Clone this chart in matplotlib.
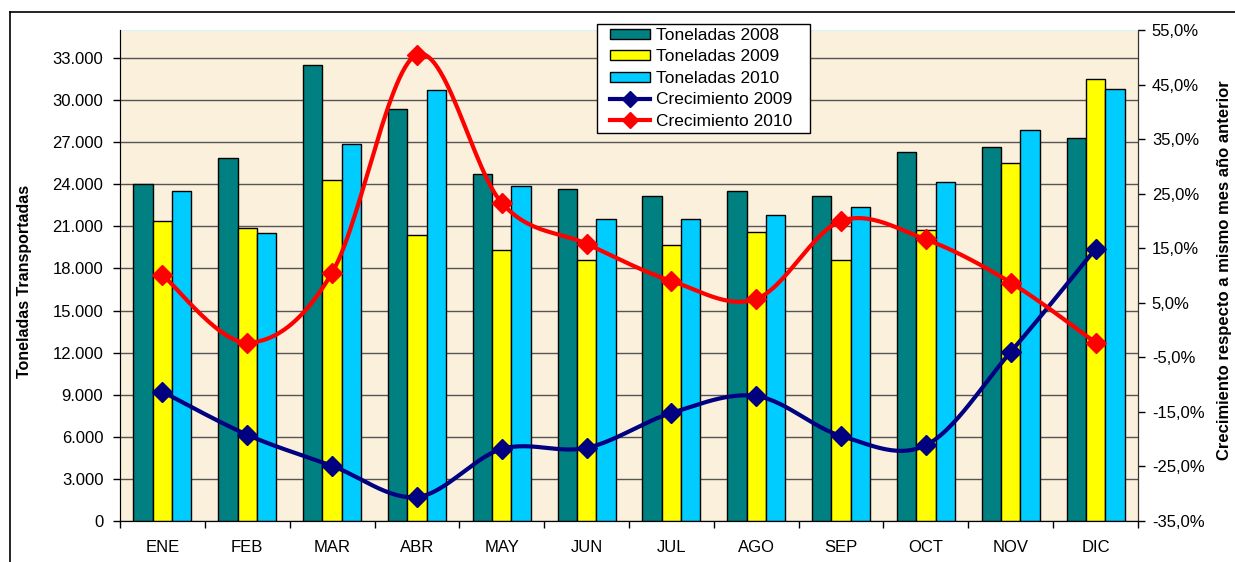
import matplotlib
matplotlib.use("Agg")
import matplotlib.pyplot as plt
import numpy as np
from matplotlib.lines import Line2D
from matplotlib.patches import Patch, Rectangle
from matplotlib.ticker import FuncFormatter, FixedLocator

plt.rcParams['font.family'] = ['Liberation Sans', 'DejaVu Sans']

# Data
meses = ['ENE', 'FEB', 'MAR', 'ABR', 'MAY', 'JUN', 'JUL', 'AGO', 'SEP', 'OCT', 'NOV', 'DIC']
ton_2008 = [24000, 25900, 32500, 29350, 24700, 23700, 23200, 23500, 23150, 26300, 26650, 27300]
ton_2009 = [21350, 20900, 24300, 20400, 19350, 18600, 19700, 20600, 18600, 20750, 25500, 31500]
ton_2010 = [23500, 20500, 26900, 30700, 23900, 21500, 21500, 21800, 22400, 24200, 27850, 30800]
crec_2009 = [-11.3, -19.2, -24.9, -30.6, -21.8, -21.6, -15.2, -12.1, -19.4, -21.1, -4.0, 14.9]
crec_2010 = [10.1, -2.3, 10.5, 50.5, 23.3, 15.8, 9.0, 5.7, 20.0, 16.6, 8.7, -2.3]


def smooth(x, y, n=30):
    # Excel-style smoothed line (Catmull-Rom / Bezier)
    x = np.asarray(x, float)
    y = np.asarray(y, float)
    xs, ys = [], []
    for i in range(len(x) - 1):
        p0 = np.array([x[max(i - 1, 0)], y[max(i - 1, 0)]])
        p1 = np.array([x[i], y[i]])
        p2 = np.array([x[i + 1], y[i + 1]])
        p3 = np.array([x[min(i + 2, len(x) - 1)], y[min(i + 2, len(x) - 1)]])
        c1 = p1 + (p2 - p0) / 6
        c2 = p2 - (p3 - p1) / 6
        t = np.linspace(0, 1, n)[:, None]
        pts = (1 - t) ** 3 * p1 + 3 * (1 - t) ** 2 * t * c1 + 3 * (1 - t) * t ** 2 * c2 + t ** 3 * p2
        xs.extend(pts[:, 0])
        ys.extend(pts[:, 1])
    return xs, ys


W, H = 1235, 562
fig = plt.figure(figsize=(W / 100, H / 100), dpi=100)
ax = fig.add_axes([120 / W, 41 / H, 1018 / W, 491 / H])
ax.set_facecolor('#FBF0DB')

x = np.arange(len(meses))
w = 0.228
ax.bar(x - w, ton_2008, w, color='#008080', edgecolor='black', linewidth=1, zorder=3)
ax.bar(x, ton_2009, w, color='#FFFF00', edgecolor='black', linewidth=1, zorder=3)
ax.bar(x + w, ton_2010, w, color='#00CCFF', edgecolor='black', linewidth=1, zorder=3)

ax.set_xlim(-0.5, 11.5)
ax.set_ylim(0, 35000)
ax.yaxis.set_major_locator(FixedLocator(np.arange(0, 33001, 3000)))
ax.yaxis.set_major_formatter(FuncFormatter(lambda v, p: f'{int(v):,}'.replace(',', '.')))
ax.grid(axis='y', color='#555555', linewidth=1, zorder=1)
ax.set_xticks(x)
ax.set_xticklabels(meses)
ax.set_xticks(np.arange(-0.5, 12, 1), minor=True)
ax.tick_params(axis='x', which='major', length=0, pad=14, labelsize=12)
ax.tick_params(axis='x', which='minor', length=5, width=1, direction='out')
ax.tick_params(axis='y', length=5, width=1, direction='out', pad=7, labelsize=12)
ax.spines['top'].set_color('#D8F6F8')
ax.spines['left'].set_color('#333333')
ax.spines['bottom'].set_color('#333333')

ax2 = ax.twinx()
ax2.set_ylim(-35, 55)
ax2.yaxis.set_major_locator(FixedLocator(np.arange(-35, 56, 10)))
ax2.yaxis.set_major_formatter(FuncFormatter(lambda v, p: f'{v:.1f}%'.replace('.', ',')))
ax2.tick_params(axis='y', length=5, width=1, direction='out', pad=5, labelsize=12)
ax2.spines['right'].set_color('#333333')
ax2.spines['top'].set_visible(False)

sx, sy = smooth(x, crec_2009)
ax2.plot(sx, sy, color='#000080', linewidth=3, zorder=4)
ax2.plot(x, crec_2009, 'D', color='#000080', markersize=10, zorder=5)
sx, sy = smooth(x, crec_2010)
ax2.plot(sx, sy, color='#FF0000', linewidth=3, zorder=4)
ax2.plot(x, crec_2010, 'D', color='#FF0000', markersize=10, zorder=5)

# axis titles
fig.text(25 / W, 1 - 281 / H, 'Toneladas Transportadas',
         rotation=90, ha='center', va='center', fontsize=11.5, fontweight='bold')
fig.text(1225 / W, 1 - 270 / H, 'Crecimiento respecto a mismo mes año anterior',
         rotation=90, ha='center', va='center', fontsize=12, fontweight='bold')

# legend box
fig.add_artist(Rectangle((597 / W, 1 - 133 / H), 213 / W, 109 / H, transform=fig.transFigure,
                         facecolor='white', edgecolor='black', linewidth=1, zorder=5))
handles = [
    Patch(facecolor='#008080', edgecolor='black', label='Toneladas 2008'),
    Patch(facecolor='#FFFF00', edgecolor='black', label='Toneladas 2009'),
    Patch(facecolor='#00CCFF', edgecolor='black', label='Toneladas 2010'),
    Line2D([], [], color='#000080', linewidth=3, marker='D', markersize=8, label='Crecimiento 2009'),
    Line2D([], [], color='#FF0000', linewidth=3, marker='D', markersize=8, label='Crecimiento 2010'),
]
leg = fig.legend(handles=handles, loc='upper left', bbox_to_anchor=(610 / W, 1 - 28 / H),
                 fontsize=12.5, frameon=False, handlelength=2.3, handleheight=0.52,
                 labelspacing=0.37, handletextpad=0.35, borderpad=0, borderaxespad=0)
leg.set_zorder(6)

# outer chart frame
fig.add_artist(Line2D([10 / W, 10 / W], [0, 1 - 12 / H], color='black', linewidth=1.2))
fig.add_artist(Line2D([10 / W, 1], [1 - 12 / H, 1 - 12 / H], color='black', linewidth=1.2))

fig.savefig('out.png', dpi=100)
